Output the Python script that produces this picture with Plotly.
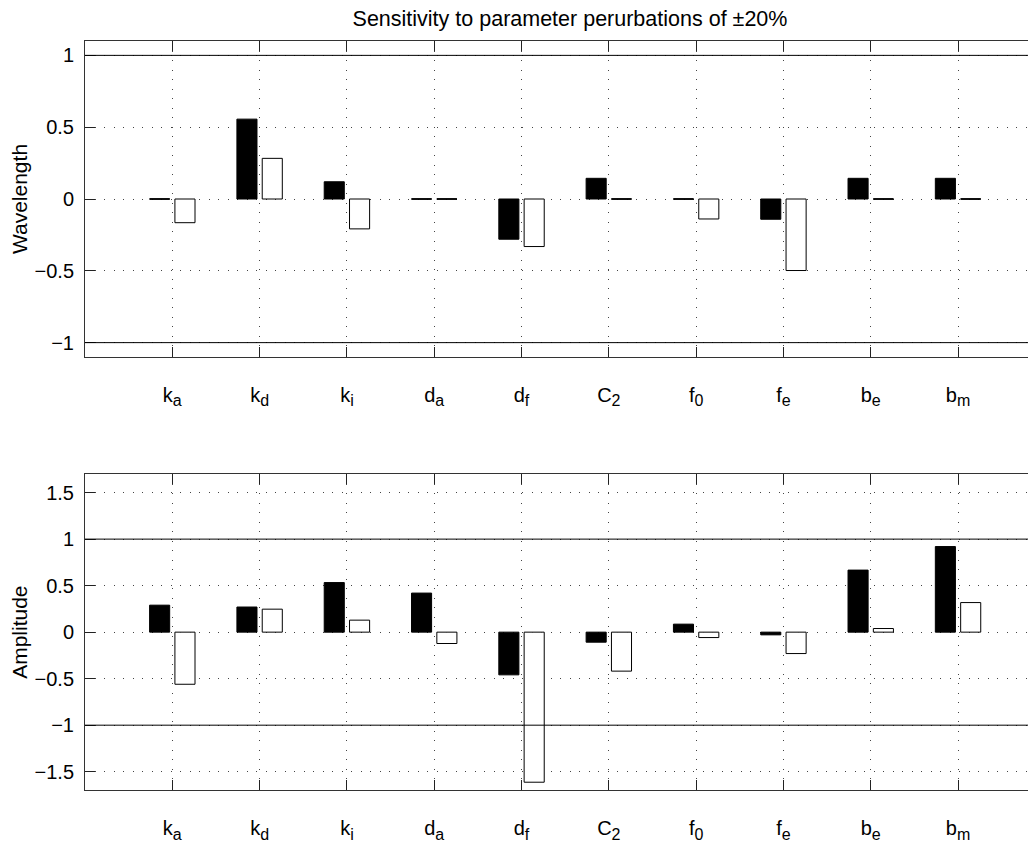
import plotly.graph_objects as go

# ---- data ----
params = ["k<sub>a</sub>", "k<sub>d</sub>", "k<sub>i</sub>", "d<sub>a</sub>", "d<sub>f</sub>",
          "C<sub>2</sub>", "f<sub>0</sub>", "f<sub>e</sub>", "b<sub>e</sub>", "b<sub>m</sub>"]
wavelength_plus = [0.0, 0.556, 0.12, 0.0, -0.28, 0.144, 0.0, -0.141, 0.144, 0.144]
wavelength_minus = [-0.165, 0.283, -0.208, 0.0, -0.331, 0.0, -0.139, -0.498, 0.0, 0.0]
amplitude_plus = [0.29, 0.27, 0.533, 0.42, -0.459, -0.108, 0.086, -0.029, 0.667, 0.92]
amplitude_minus = [-0.56, 0.247, 0.129, -0.122, -1.613, -0.419, -0.058, -0.23, 0.039, 0.318]
title_text = "Sensitivity to parameter perurbations of \u00b120%"

FONT = "Liberation Sans, Arial, Helvetica, sans-serif"
idx = list(range(1, len(params) + 1))
BAR_W = 0.23
OFF_PLUS = -0.26
OFF_MINUS = 0.03

# page body has an 8px margin: figure is sized to fill the rest of the window
W, H = 1028, 843
S = 8  # offset of figure inside the page

fig = go.Figure()


def add_pair(plus, minus, xa, ya):
    fig.add_trace(go.Bar(x=idx, y=plus, width=BAR_W, offset=OFF_PLUS,
                         marker=dict(color="black", line=dict(color="black", width=1)),
                         xaxis=xa, yaxis=ya, showlegend=False))
    fig.add_trace(go.Bar(x=idx, y=minus, width=BAR_W, offset=OFF_MINUS,
                         marker=dict(color="white", line=dict(color="black", width=1)),
                         xaxis=xa, yaxis=ya, showlegend=False))
    # zero-height bars drawn as flat lines (as the reference shows)
    lx, ly = [], []
    for vals, off in ((plus, OFF_PLUS), (minus, OFF_MINUS)):
        for i, v in zip(idx, vals):
            if v == 0:
                lx += [i + off, i + off + BAR_W, None]
                ly += [0, 0, None]
    fig.add_trace(go.Scatter(x=lx, y=ly, mode="lines", line=dict(color="black", width=1.5),
                             xaxis=xa, yaxis=ya, showlegend=False, hoverinfo="skip"))


add_pair(wavelength_plus, wavelength_minus, "x", "y")
add_pair(amplitude_plus, amplitude_minus, "x2", "y2")

ticktext = [p.replace("<sub>", "<sub><span style='font-size:16px'>").replace("</sub>", "</span></sub>")
            for p in params]

xcommon = dict(range=[0, 10.893], domain=[(85 - S) / W, 1.0], tickmode="array", tickvals=idx,
               ticktext=ticktext, ticks="inside", ticklen=10, tickcolor="#222",
               showline=True, linecolor="#333", linewidth=1, mirror="allticks",
               showgrid=True, gridcolor="#444", griddash="1px,8.5px", gridwidth=1,
               zeroline=False, ticklabelstandoff=20,
               tickfont=dict(family=FONT, size=20, color="black"))
ycommon = dict(ticks="inside", ticklen=10, tickcolor="#222", showline=True, linecolor="#333",
               linewidth=1, mirror=False, showgrid=True, gridcolor="#444",
               griddash="1px,8.5px", gridwidth=1, zeroline=False, ticklabelstandoff=6,
               tickfont=dict(family=FONT, size=20, color="black"))

fig.update_layout(
    width=W, height=H,
    margin=dict(l=0, r=0, t=0, b=0, autoexpand=False),
    paper_bgcolor="white", plot_bgcolor="white",
    barmode="overlay",
    title=dict(text=title_text, x=(570 - S) / W, xanchor="center", y=1 - (18 - S) / H,
               yanchor="middle", xref="paper", yref="container",
               font=dict(family=FONT, size=21.5, color="black")),
    xaxis=dict(anchor="y", **xcommon),
    xaxis2=dict(anchor="y2", **xcommon),
    yaxis=dict(anchor="x", domain=[1 - (357 - S) / H, 1 - (41 - S) / H], range=[-1.1, 1.1],
               tickvals=[-1, -0.5, 0, 0.5, 1], ticktext=["\u22121", "\u22120.5", "0", "0.5", "1"],
               title=dict(text="Wavelength", standoff=2, font=dict(family=FONT, size=21, color="black")),
               **ycommon),
    yaxis2=dict(anchor="x2", domain=[1 - (790.3 - S) / H, 1 - (474 - S) / H], range=[-1.7, 1.7],
                tickvals=[-1.5, -1, -0.5, 0, 0.5, 1, 1.5],
                ticktext=["\u22121.5", "\u22121", "\u22120.5", "0", "0.5", "1", "1.5"],
                title=dict(text="Amplitude", standoff=2, font=dict(family=FONT, size=21, color="black")),
                **ycommon),
    shapes=[
        dict(type="line", xref="x domain", yref="y", x0=0, x1=1, y0=1, y1=1, line=dict(color="black", width=1)),
        dict(type="line", xref="x domain", yref="y", x0=0, x1=1, y0=-1, y1=-1, line=dict(color="black", width=1)),
        dict(type="line", xref="x2 domain", yref="y2", x0=0, x1=1, y0=1, y1=1, line=dict(color="black", width=1)),
        dict(type="line", xref="x2 domain", yref="y2", x0=0, x1=1, y0=-1, y1=-1, line=dict(color="black", width=1)),
    ],
)

fig.write_html("out.html")
